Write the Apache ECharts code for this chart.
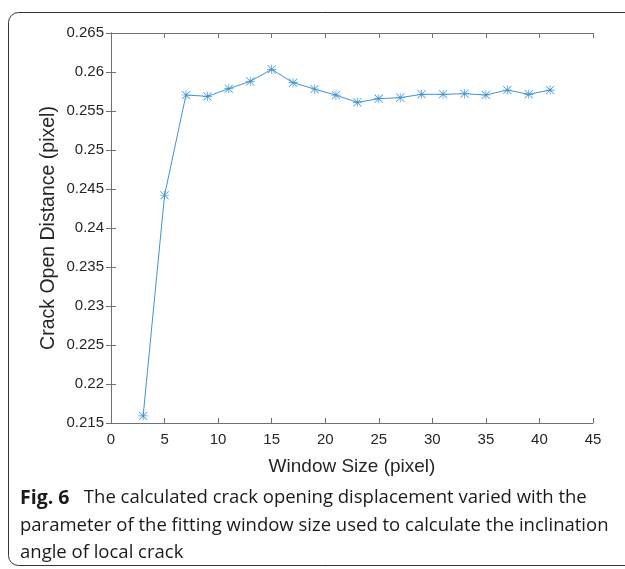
<!DOCTYPE html>
<html><head><meta charset="utf-8">
<script src="https://cdn.jsdelivr.net/npm/echarts@6/dist/echarts.min.js"></script>
<style>html,body{margin:0;padding:0;background:#fff}#c{width:625px;height:569px}</style>
</head><body><div id="c"></div>
<script>
const windowSizes = [3,5,7,9,11,13,15,17,19,21,23,25,27,29,31,33,35,37,39,41];
const crackOpen = [0.2159,0.2442,0.25705,0.25688,0.25786,0.25880,0.26034,0.25863,0.25782,0.25703,0.25611,0.25658,0.25671,0.25714,0.25714,0.25722,0.25705,0.25769,0.25714,0.25769];
const xTitle = 'Window Size (pixel)';
const yTitle = 'Crack Open Distance (pixel)';
const captionBold = 'Fig. 6';
const captionLines = ['The calculated crack opening displacement varied with the','parameter of the fitting window size used to calculate the inclination','angle of local crack'];

const star = 'path://M9.2 0H10.8V20H9.2Z M0 9.2H20V10.8H0Z M1.57 0.43L19.57 18.43L18.43 19.57L0.43 1.57Z M18.43 0.43L19.57 1.57L1.57 19.57L0.43 18.43Z';
const axCol = '#707070';
const txtCol = '#262626';
const font = "'Liberation Sans', Arial, sans-serif";
const capFam = "'Open Sans', 'Noto Sans', sans-serif";
const capFont = "18.5px " + capFam;
const chart = echarts.init(document.getElementById('c'));
const baseX = {type:'value',min:0,max:45,interval:5,
  axisLine:{lineStyle:{color:axCol,width:1}},axisTick:{inside:true,length:5,lineStyle:{color:axCol}},
  splitLine:{show:false}};
const baseY = {type:'value',min:0.215,max:0.265,interval:0.005,
  axisLine:{lineStyle:{color:axCol,width:1}},axisTick:{inside:true,length:5,lineStyle:{color:axCol}},
  splitLine:{show:false}};
chart.setOption({
  animation:false,
  grid:{left:111,top:33,right:32,bottom:146,containLabel:false},
  xAxis:[
    Object.assign({},baseX,{position:'bottom',name:xTitle,nameLocation:'middle',nameGap:34,nameMoveOverlap:false,
      nameTextStyle:{fontFamily:font,fontSize:19,color:txtCol},
      axisLabel:{fontFamily:font,fontSize:15,color:txtCol,margin:9}}),
    Object.assign({},baseX,{position:'top',axisLabel:{show:false}})
  ],
  yAxis:[
    Object.assign({},baseY,{position:'left',name:yTitle,nameLocation:'middle',nameGap:52,nameMoveOverlap:false,
      nameTextStyle:{fontFamily:font,fontSize:19.5,color:txtCol},
      axisLabel:{fontFamily:font,fontSize:15,color:txtCol,margin:7,formatter:v=>String(+v.toFixed(3))}}),
    Object.assign({},baseY,{position:'right',axisLabel:{show:false}})
  ],
  series:[{type:'line',data:windowSizes.map((x,i)=>[x,crackOpen[i]]),
    symbol:star,symbolSize:9,showAllSymbol:true,
    lineStyle:{color:'#3d93d6',width:1},itemStyle:{color:'#3d93d6'}}],
  graphic:[
    {type:'rect',shape:{x:8.5,y:12.5,width:700,height:553,r:[10,0,0,10]},style:{fill:'none',stroke:'#333',lineWidth:1}},
    {type:'text',left:20,top:488,style:{text:'{b|'+captionBold+'}   '+captionLines[0],
      rich:{b:{fontFamily:capFam,fontWeight:'bold',fontSize:19.5,fill:'#1a1a1a'}},
      font:capFont,fill:'#1a1a1a'}},
    {type:'text',left:20,top:516,style:{text:captionLines[1],font:capFont,fill:'#1a1a1a'}},
    {type:'text',left:20,top:543,style:{text:captionLines[2],font:capFont,fill:'#1a1a1a'}}
  ]
});
</script></body></html>
